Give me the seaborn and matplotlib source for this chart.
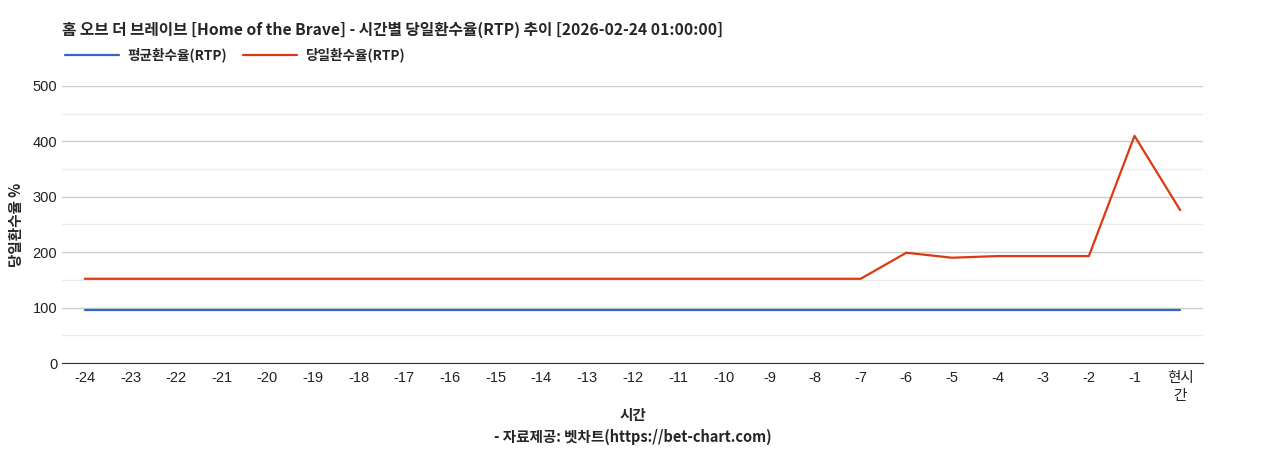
import pandas as pd
import seaborn as sns
import matplotlib.pyplot as plt

hours = ['-24', '-23', '-22', '-21', '-20', '-19', '-18', '-17', '-16', '-15', '-14', '-13',
         '-12', '-11', '-10', '-9', '-8', '-7', '-6', '-5', '-4', '-3', '-2', '-1', '현시\n간']
avg_rtp = [96] * 25
day_rtp = [152, 152, 152, 152, 152, 152, 152, 152, 152, 152, 152, 152,
           152, 152, 152, 152, 152, 152, 199, 190, 193, 193, 193, 410, 276]
series_names = ['평균환수율(RTP)', '당일환수율(RTP)']
colors = ['#3366cc', '#dc3912']

df = pd.DataFrame({
    '시간': hours * 2,
    'value': avg_rtp + day_rtp,
    'series': [series_names[0]] * len(hours) + [series_names[1]] * len(hours),
})

sns.set_style('white')
plt.rcParams['font.family'] = ['Noto Sans CJK KR', 'DejaVu Sans']
tick_fonts = ['Liberation Sans', 'Noto Sans CJK KR']

fig = plt.figure(figsize=(12.68, 4.5), dpi=100)
ax = fig.add_axes([0.0489, 0.1933, 0.8998, 0.6157])

sns.lineplot(data=df, x='시간', y='value', hue='series', palette=colors,
             linewidth=1.6, ax=ax, sort=False)

ax.set_xlim(-0.5, len(hours) - 0.5)
ax.set_ylim(0, 500)
ax.set_yticks([0, 100, 200, 300, 400, 500])
ax.set_yticks([50, 150, 250, 350, 450], minor=True)
ax.grid(axis='y', which='major', color='#cccccc', linewidth=1)
ax.grid(axis='y', which='minor', color='#ebebeb', linewidth=1)
ax.set_axisbelow(True)
for s in ['top', 'right', 'left']:
    ax.spines[s].set_visible(False)
ax.spines['bottom'].set_color('#333333')
ax.tick_params(axis='both', which='both', length=0, labelsize=10.5, colors='#222222')
ax.tick_params(axis='x', pad=6)
for lab in ax.get_xticklabels() + ax.get_yticklabels():
    lab.set_family(tick_fonts)
    lab.set_linespacing(1.35)

ax.set_ylabel('당일환수율 %', fontsize=10.5, fontweight='bold', labelpad=6)
ax.set_xlabel('시간\n- 자료제공: 벳차트(https://bet-chart.com)', fontsize=10.5,
              fontweight='bold', labelpad=3, linespacing=1.4)

fig.text(0.0489, 0.933, '홈 오브 더 브레이브 [Home of the Brave] - 시간별 당일환수율(RTP) 추이 [2026-02-24 01:00:00]',
         fontsize=11.3, fontweight='bold', ha='left', va='center')

handles, labels = ax.get_legend_handles_labels()
ax.get_legend().remove()
fig.legend(handles, labels, loc='center left', bbox_to_anchor=(0.047, 0.878), ncol=2,
           frameon=False, prop={'weight': 'bold', 'size': 9.8}, handlelength=4.0,
           handletextpad=0.55, columnspacing=1.2, borderaxespad=0)

fig.savefig('out.png', dpi=100)
